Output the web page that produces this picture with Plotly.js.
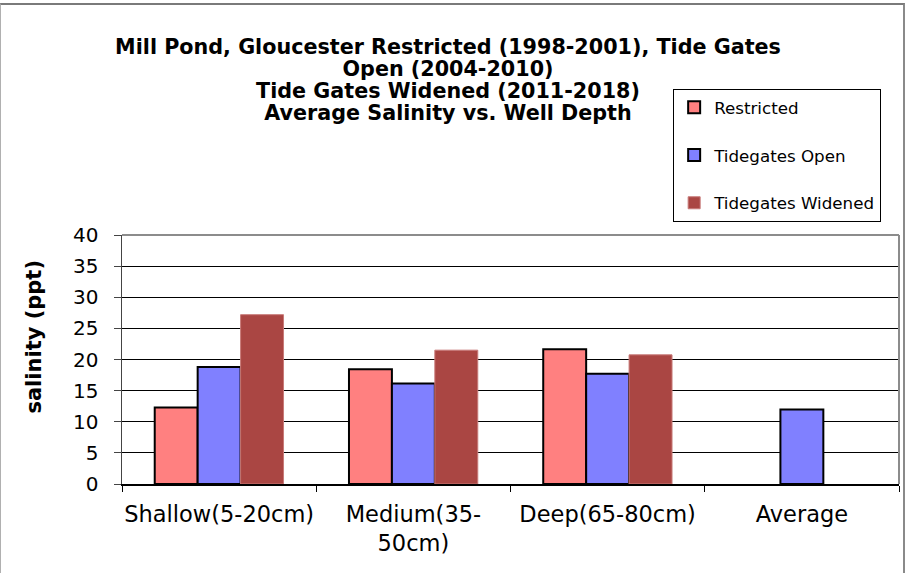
<!DOCTYPE html>
<html>
<head>
<meta charset="utf-8">
<script src="https://cdn.plot.ly/plotly-3.0.1.min.js"></script>
<style>
  html, body { margin: 0; padding: 0; background: #fff; }
  #wrap { position: relative; width: 907px; height: 573px; }
  #chart { position: absolute; left: 0; top: 0; width: 907px; height: 573px; }
  #frame { position: absolute; left: 0; top: 3px; width: 902px; height: 580px;
           border-top: 2px solid #7a7a7a; border-left: 1px solid #b0b0b0; border-right: 2px solid #8a8a8a;
           pointer-events: none; }
</style>
</head>
<body>
<div id="wrap">
  <div id="chart"></div>
  <div id="frame"></div>
</div>
<script>
const categories = ['Shallow(5-20cm)', 'Medium(35-50cm)', 'Deep(65-80cm)', 'Average'];
const tickLabels = ['Shallow(5-20cm)', 'Medium(35-<br>50cm)', 'Deep(65-80cm)', 'Average'];
const seriesNames = ['Restricted', 'Tidegates Open', 'Tidegates Widened'];
const restricted = [12.3, 18.45, 21.65, null];
const tidegatesOpen = [18.8, 16.15, 17.7, 11.95];
const tidegatesWidened = [27.2, 21.5, 20.75, null];
const yTicks = [0, 5, 10, 15, 20, 25, 30, 35, 40];
const titleLines = [
  'Mill Pond, Gloucester Restricted (1998-2001), Tide Gates',
  'Open (2004-2010)',
  'Tide Gates Widened (2011-2018)',
  'Average Salinity vs. Well Depth'
];
const yTitle = 'salinity (ppt)';

const font = 'DejaVu Sans, Verdana, sans-serif';

const traces = [
  { type: 'bar', name: seriesNames[0], x: categories, y: restricted, legendgroup: 'a',
    marker: { color: '#FF8080', line: { color: '#000000', width: 2 } } },
  { type: 'bar', name: seriesNames[1], x: categories, y: tidegatesOpen, legendgroup: 'b',
    marker: { color: '#8080FF', line: { color: '#000000', width: 2 } } },
  { type: 'bar', name: seriesNames[2], x: categories, y: tidegatesWidened, legendgroup: 'c',
    marker: { color: '#AA4643', line: { color: '#C87A78', width: 1 } } }
];

const L = 121.5, R = 899, T = 235, B = 484;
const W = 907, H = 573;

const layout = {
  width: W, height: H,
  margin: { l: L, r: W - R, t: T, b: H - B, pad: 0 },
  paper_bgcolor: '#ffffff',
  plot_bgcolor: '#ffffff',
  font: { family: font, color: '#000000' },
  showlegend: true,
  barmode: 'group',
  bargap: 0.337,
  bargroupgap: 0,
  title: {
    text: titleLines.map(t => '<span style="font-size:20.7px">' + t + '</span>').join('<br>'),
    font: { family: 'DejaVu Sans, Verdana, sans-serif', size: 16.8, color: '#000000', weight: 'bold' },
    x: 448 / W, xref: 'container', xanchor: 'center',
    y: 1 - 54 / H, yref: 'container', yanchor: 'top'
  },
  xaxis: {
    type: 'category',
    categoryorder: 'array',
    categoryarray: categories,
    tickmode: 'array',
    tickvals: categories,
    ticktext: tickLabels,
    tickson: 'boundaries',
    tickangle: 0,
    automargin: false,
    ticks: 'outside', ticklen: 6, tickwidth: 1, tickcolor: '#000000',
    tickfont: { family: font, size: 22.5, color: '#000000' },
    ticklabelstandoff: 9,
    showline: true, linecolor: '#000000', linewidth: 1.5,
    showgrid: false, zeroline: false,
    fixedrange: true
  },
  yaxis: {
    range: [0, 40],
    tickmode: 'array',
    tickvals: yTicks,
    ticks: 'outside', ticklen: 7, tickwidth: 1, tickcolor: '#444444',
    tickfont: { family: font, size: 20, color: '#000000' },
    ticklabelstandoff: 11,
    showline: true, linecolor: '#444444', linewidth: 1.5,
    showgrid: true, gridcolor: '#000000', gridwidth: 1,
    zeroline: false,
    fixedrange: true
  },
  legend: {
    x: (673 - L) / (R - L), xref: 'paper', xanchor: 'left',
    y: (B - 89) / (B - T), yref: 'paper', yanchor: 'top',
    bgcolor: '#ffffff', bordercolor: '#000000', borderwidth: 1,
    font: { family: font, size: 16.7, color: '#000000' },
    tracegroupgap: 23,
    traceorder: 'grouped',
    itemwidth: 30
  },
  annotations: [
    { text: '<b>' + yTitle + '</b>', textangle: -90, showarrow: false,
      xref: 'paper', yref: 'paper',
      x: (33 - L) / (R - L), y: (B - 337) / (B - T),
      xanchor: 'center', yanchor: 'middle',
      font: { family: font, size: 21, color: '#000000' } }
  ],
  shapes: [
    { type: 'line', xref: 'paper', yref: 'paper', x0: 0, x1: 1, y0: 1, y1: 1,
      line: { color: '#8c8c8c', width: 2 } },
    { type: 'line', xref: 'paper', yref: 'paper', x0: 1, x1: 1, y0: 0, y1: 1,
      line: { color: '#8c8c8c', width: 2 } }
  ]
};

Plotly.newPlot('chart', traces, layout, { displayModeBar: false, staticPlot: true });
</script>
</body>
</html>
